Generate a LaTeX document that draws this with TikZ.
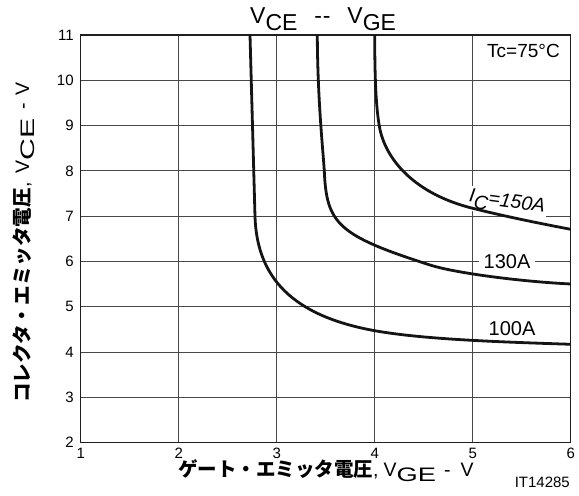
\documentclass[tikz,border=0pt]{standalone}
\usepackage{graphicx}
\usepackage{fontspec}
\setmainfont{Liberation Sans}
\newfontfamily\jpfont{Noto Sans CJK JP}
\newcommand{\axsub}[2]{\raisebox{-5pt}{\scalebox{#1}[1]{#2}}}

\begin{document}
\begin{tikzpicture}[x=98pt, y=45.3pt,
		gridline/.style={draw=black!72, line width=0.9pt},
		frameline/.style={draw=black!88, line width=1.4pt},
		ivcurve/.style={draw=black!92, line width=2.8pt},
		ticklabel/.style={font=\fontsize{15}{15}\selectfont, inner sep=0pt},
		curvelabel/.style={font=\fontsize{20}{20}\selectfont, inner xsep=5pt, inner ysep=1pt, fill=white},
		axislabel/.style={font=\fontsize{19.5}{19.5}\selectfont, inner sep=0pt}]
		\useasboundingbox (0.17653,0.83113) rectangle (6.08469,11.77263);
		
		% grid
		\foreach \v in {3,...,10}
			\draw [gridline] (1,\v) -- (6,\v);
		\foreach \g in {2,...,5}
			\draw [gridline] (\g,2) -- (\g,11);
		\draw [frameline] (1,2) rectangle (6,11);
		
		% ticks
		\foreach \v in {2,...,11}
			\node [ticklabel, anchor=east] at (0.93,\v) (ty\v) {\v};
		\foreach \g in {1,...,6}
			\node [ticklabel, anchor=base] at (\g,1.66) (tx\g) {\g};
		
		% curves and labels, in pixels from the top left corner
		\begin{scope}[shift={(0.17653,11.77263)}, x=1pt, y=-1pt]
			\node [curvelabel, inner xsep=2pt, inner ysep=2.5pt, rotate=-8, font=\fontsize{19.5}{19.5}\selectfont\itshape] at (507,203.5) (ic150) {I\raisebox{-6pt}{C}=150A};
			\node [curvelabel] at (507,262) (ic130) {130A};
			\node [curvelabel, fill=none] at (512,329) (ic100) {100A};
			\node [curvelabel, fill=none, font=\fontsize{19}{19}\selectfont] at (523.5,51.3) (tc) {Tc=75\textdegree C};
			
			\draw [ivcurve] (250,35) -- (255,216.7) .. controls (257,278) and (292.7,315.9) .. (374.7,330.7)
				.. controls (424.7,339.7) and (505.7,342.1) .. (570.7,344.3);
			\draw [ivcurve] (317.3,35) .. controls (317.6,100) and (323,150) .. (324.3,171)
				.. controls (326.5,224) and (338,235.5) .. (430,265)
				.. controls (455,273) and (520,281.5) .. (570.7,284);
			\draw [ivcurve] (374.7,35) .. controls (374.8,85) and (376.3,108) .. (379.3,126)
				.. controls (384.8,159) and (414.2,193.8) .. (472.7,208.3)
				.. controls (505,216.4) and (540,223.5) .. (570.7,229.3);
			
			\node [font=\fontsize{23}{23}\selectfont, inner sep=0pt, anchor=base west] at (250,23.3) (title) {V\raisebox{-7pt}{CE}\hspace{17pt}-\kern0.6pt-\hspace{17pt}V\raisebox{-7pt}{GE}};
			\node [axislabel, anchor=base west] at (178,477) (xlabel) {{\jpfont\bfseries\fontsize{19.5}{19.5}\selectfont ゲート・エミッタ電圧},\hspace{5pt}V\axsub{1.4}{GE}\hspace{8pt}-\hspace{10pt}V};
			\node [axislabel, anchor=base west, rotate=90] at (29,403) (ylabel) {{\jpfont\bfseries\fontsize{19.6}{19.6}\selectfont コレクタ・エミッタ電圧},\hspace{9pt}V\axsub{1.55}{CE}\hspace{9pt}-\hspace{8pt}V};
			\node [ticklabel, anchor=base east] at (570,488) (fig) {IT14285};
		\end{scope}
	\end{tikzpicture}
\end{document}
